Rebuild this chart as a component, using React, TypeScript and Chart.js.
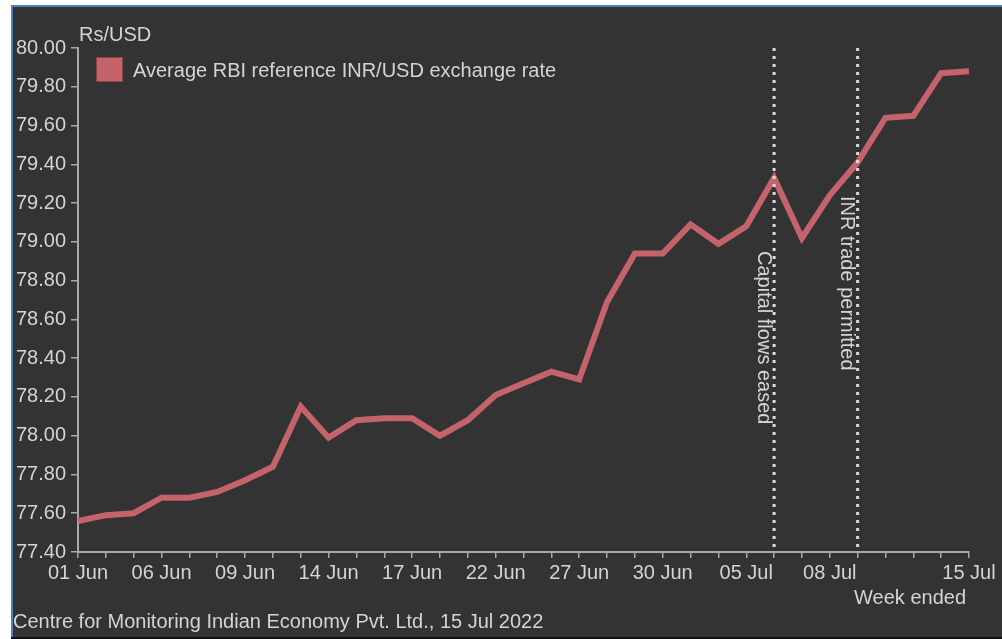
import React, { useEffect, useRef } from "react";
import { Chart, registerables } from "chart.js";

Chart.register(...registerables);

const categories: string[] = [
  "01 Jun", "02 Jun", "03 Jun", "06 Jun", "07 Jun", "08 Jun", "09 Jun", "10 Jun",
  "13 Jun", "14 Jun", "15 Jun", "16 Jun", "17 Jun", "20 Jun", "21 Jun", "22 Jun",
  "23 Jun", "24 Jun", "27 Jun", "28 Jun", "29 Jun", "30 Jun", "01 Jul", "04 Jul",
  "05 Jul", "06 Jul", "07 Jul", "08 Jul", "11 Jul", "12 Jul", "13 Jul", "14 Jul", "15 Jul",
];

const rateValues: number[] = [
  77.56, 77.59, 77.6, 77.68, 77.68, 77.71, 77.77, 77.84,
  78.15, 77.99, 78.08, 78.09, 78.09, 78.0, 78.08, 78.21,
  78.27, 78.33, 78.29, 78.69, 78.94, 78.94, 79.09, 78.99,
  79.08, 79.33, 79.02, 79.24, 79.41, 79.64, 79.65, 79.87, 79.88,
];

const shownTickLabels: string[] = [
  "01 Jun", "06 Jun", "09 Jun", "14 Jun", "17 Jun", "22 Jun", "27 Jun", "30 Jun", "05 Jul", "08 Jul", "15 Jul",
];

const eventDates: string[] = ["06 Jul", "11 Jul"];
const eventLabels: string[] = ["Capital flows eased", "INR trade permitted"];

const seriesName = "Average RBI reference INR/USD exchange rate";
const yAxisUnit = "Rs/USD";
const xAxisNote = "Week ended";
const sourceNote = "Centre for Monitoring Indian Economy Pvt. Ltd., 15 Jul 2022";

const FONT = "'Liberation Sans', Arial, sans-serif";
const FS = 20;
const TEXT = "#d4d4d4";
const LINE = "#c4636b";
const AXIS = "#a8a8a8";

const decorPlugin = {
  id: "decor",
  beforeDraw(chart: any) {
    const ctx = chart.ctx;
    const w = chart.width;
    const h = chart.height;
    ctx.save();
    ctx.fillStyle = "#ffffff";
    ctx.fillRect(0, 0, w, h);
    ctx.fillStyle = "#333333";
    ctx.fillRect(11, 5, w - 11, h - 7);
    ctx.fillStyle = "#4f81bd";
    ctx.fillRect(11, 5, w - 11, 2);
    ctx.fillRect(11, 5, 2, h - 7);
    ctx.fillStyle = "#111111";
    ctx.fillRect(11, h - 2, w - 11, 2);
    ctx.restore();
  },
  afterDatasetsDraw(chart: any) {
    const ctx = chart.ctx;
    const x = chart.scales.x;
    const area = chart.chartArea;
    ctx.save();
    eventDates.forEach((d, i) => {
      const idx = categories.indexOf(d);
      const px = x.getPixelForValue(idx);
      ctx.strokeStyle = "#dcdcdc";
      ctx.lineWidth = 3;
      ctx.setLineDash([3, 5]);
      ctx.beginPath();
      ctx.moveTo(px, area.top);
      ctx.lineTo(px, area.bottom);
      ctx.stroke();
      ctx.setLineDash([]);
      ctx.save();
      ctx.translate(px - 11, i === 0 ? 251 : 196);
      ctx.rotate(Math.PI / 2);
      ctx.fillStyle = TEXT;
      ctx.font = `${FS}px ${FONT}`;
      ctx.textAlign = "left";
      ctx.textBaseline = "middle";
      ctx.fillText(eventLabels[i], 0, 0);
      ctx.restore();
    });
    ctx.restore();
  },
  afterDraw(chart: any) {
    const ctx = chart.ctx;
    const area = chart.chartArea;
    ctx.save();
    ctx.font = `${FS}px ${FONT}`;
    ctx.fillStyle = TEXT;
    ctx.textBaseline = "middle";
    ctx.textAlign = "left";
    ctx.fillText(yAxisUnit, area.left + 1, 35);
    // legend
    ctx.fillStyle = LINE;
    ctx.fillRect(96, 57, 27, 25);
    ctx.strokeStyle = "#8a454b";
    ctx.lineWidth = 1;
    ctx.strokeRect(96.5, 57.5, 26, 24);
    ctx.fillStyle = TEXT;
    ctx.fillText(seriesName, 133, 71);
    // notes
    ctx.textAlign = "right";
    ctx.fillText(xAxisNote, area.right - 3, 598);
    ctx.textAlign = "left";
    ctx.fillText(sourceNote, 13, 622);
    ctx.restore();
  },
};

export default function App() {
  const canvasRef = useRef<HTMLCanvasElement | null>(null);

  useEffect(() => {
    if (!canvasRef.current) return;
    const chart = new Chart(canvasRef.current, {
      type: "line",
      data: {
        labels: categories,
        datasets: [
          {
            label: seriesName,
            data: rateValues,
            borderColor: LINE,
            backgroundColor: LINE,
            borderWidth: 6,
            pointRadius: 0,
            pointHoverRadius: 0,
            tension: 0,
            fill: false,
          },
        ],
      },
      options: {
        responsive: false,
        devicePixelRatio: 1,
        animation: false,
        layout: { padding: { left: 0, right: 33, top: 48, bottom: 0 } },
        plugins: {
          legend: { display: false },
          tooltip: { enabled: false },
        },
        scales: {
          x: {
            type: "category",
            offset: false,
            afterFit: (scale: any) => {
              scale.height = 87;
            },
            grid: {
              display: true,
              drawOnChartArea: false,
              drawTicks: true,
              tickLength: 6,
              color: AXIS,
              lineWidth: 1.5,
            },
            border: { display: true, color: AXIS, width: 2 },
            ticks: {
              autoSkip: false,
              maxRotation: 0,
              minRotation: 0,
              padding: 3,
              color: TEXT,
              font: { family: FONT, size: FS },
              callback: (_v: any, index: number) =>
                shownTickLabels.includes(categories[index]) ? categories[index] : "",
            },
          },
          y: {
            min: 77.4,
            max: 80.0,
            afterFit: (scale: any) => {
              scale.width = 78;
            },
            grid: {
              display: true,
              drawOnChartArea: false,
              drawTicks: true,
              tickLength: 7,
              color: AXIS,
              lineWidth: 1.5,
            },
            border: { display: true, color: AXIS, width: 2 },
            ticks: {
              stepSize: 0.2,
              padding: 5,
              color: TEXT,
              font: { family: FONT, size: FS },
              callback: (v: any) => Number(v).toFixed(2),
            },
          },
        },
      },
      plugins: [decorPlugin],
    });
    return () => chart.destroy();
  }, []);

  return (
    <div style={{ position: "fixed", left: 0, top: 0, width: 1002, height: 639 }}>
      <canvas ref={canvasRef} width={1002} height={639} style={{ display: "block" }} />
    </div>
  );
}
